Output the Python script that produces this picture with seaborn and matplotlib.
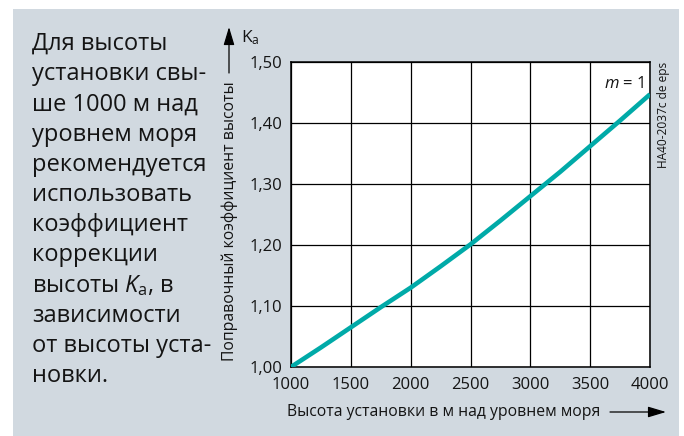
import matplotlib
matplotlib.use("Agg")
import matplotlib.pyplot as plt
import seaborn as sns
import pandas as pd
from matplotlib.patches import Rectangle, FancyArrowPatch

# ---- data ----
altitude = [1000, 1250, 1500, 1750, 2000, 2250, 2500, 2750, 3000, 3250, 3500, 3750, 4000]
ka = [1.000, 1.032, 1.065, 1.098, 1.130, 1.165, 1.201, 1.240, 1.280, 1.320, 1.362, 1.404, 1.447]
x_ticks = [1000, 1500, 2000, 2500, 3000, 3500, 4000]
x_tick_labels = ["1000", "1500", "2000", "2500", "3000", "3500", "4000"]
y_ticks = [1.00, 1.10, 1.20, 1.30, 1.40, 1.50]
y_tick_labels = ["1,00", "1,10", "1,20", "1,30", "1,40", "1,50"]
side_text = [
    "Для высоты",
    "установки свы-",
    "ше 1000 м над",
    "уровнем моря",
    "рекомендуется",
    "использовать",
    "коэффициент",
    "коррекции",
    r"высоты $K_{\mathrm{a}}$, в",
    "зависимости",
    "от высоты уста-",
    "новки.",
]

sns.set_style("white")
FONT = "Open Sans"
plt.rcParams["font.family"] = [FONT, "DejaVu Sans"]
plt.rcParams["mathtext.fontset"] = "custom"
plt.rcParams["mathtext.rm"] = FONT
plt.rcParams["mathtext.it"] = FONT + ":italic"

W, H = 684, 436
fig = plt.figure(figsize=(W / 100, H / 100), dpi=100, facecolor="white")

BG = "#d1d9e0"
TXT = "#141414"
fig.add_artist(Rectangle((13 / W, 0), (679 - 13) / W, (436 - 9) / H,
                         transform=fig.transFigure, facecolor=BG, edgecolor="none", zorder=0))

L, R, T, B = 291, 650, 62, 367
ax = fig.add_axes([L / W, (H - B) / H, (R - L) / W, (B - T) / H])
ax.set_facecolor("white")

df = pd.DataFrame({"altitude": altitude, "ka": ka})
sns.lineplot(data=df, x="altitude", y="ka", ax=ax, color="#00aaa8", linewidth=3.3,
             solid_capstyle="butt", zorder=3)

ax.set_xlim(1000, 4000)
ax.set_ylim(1.0, 1.5)
ax.set_xticks(x_ticks)
ax.set_xticklabels(x_tick_labels, fontsize=12)
ax.set_yticks(y_ticks)
ax.set_yticklabels(y_tick_labels, fontsize=12)
ax.tick_params(axis="both", direction="out", length=5, width=0.9, color="black",
               pad=1.5, labelcolor=TXT)
ax.tick_params(axis="x", pad=2)
ax.grid(True, color="black", linewidth=0.9)
ax.set_axisbelow(True)
for s in ax.spines.values():
    s.set_color("black")
    s.set_linewidth(1.1)
ax.set_xlabel("")
ax.set_ylabel("")

ax.text(0.985, 0.955, r"$m$ = 1", transform=ax.transAxes, ha="right", va="top",
        fontsize=12, color=TXT)

arrow_style = "-|>,head_length=11,head_width=3.3"

# y label with arrow
fig.text(230 / W, (H - 221) / H, "Поправочный коэффициент высоты", rotation=90,
         ha="center", va="center", fontsize=11.3, color=TXT)
fig.add_artist(FancyArrowPatch(
    (229, H - 73), (229, H - 27), transform=None, arrowstyle=arrow_style,
    mutation_scale=1, color="black", linewidth=0.9, shrinkA=0, shrinkB=0))
fig.text(241 / W, (H - 38) / H, r"K$_{\mathrm{a}}$", ha="left", va="center", fontsize=12.5,
         color=TXT)

# x label with arrow
fig.text(287 / W, (H - 412) / H, "Высота установки в м над уровнем моря", ha="left",
         va="center", fontsize=11.3, color=TXT)
fig.add_artist(FancyArrowPatch(
    (610, H - 412), (666, H - 412), transform=None, arrowstyle=arrow_style,
    mutation_scale=1, color="black", linewidth=0.9, shrinkA=0, shrinkB=0))

# id text
fig.text(663 / W, (H - 62) / H, "HA40-2037c de eps", rotation=90, ha="center", va="top",
         fontsize=8.6, color=TXT)

# side text
y0 = 50
step = 30.2
for i, line in enumerate(side_text):
    fig.text(32 / W, (H - (y0 + i * step)) / H, line, ha="left", va="baseline",
             fontsize=17, color=TXT)

fig.savefig("out.png", dpi=100, facecolor="white")
